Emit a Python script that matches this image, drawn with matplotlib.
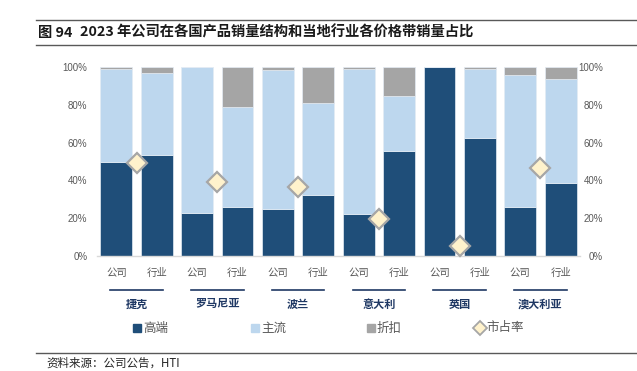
import matplotlib
matplotlib.use("Agg")
import matplotlib.pyplot as plt
import numpy as np
from matplotlib.lines import Line2D
from matplotlib.transforms import blended_transform_factory

plt.rcParams['font.family'] = ['Noto Sans CJK SC', 'DejaVu Sans']

# ---------------- data ----------------
countries = ['捷克', '罗马尼亚', '波兰', '意大利', '英国', '澳大利亚']
bar_labels = ['公司', '行业']
company_high = [50, 23, 24.7, 22.2, 100, 25.8]
company_main = [48.8, 77, 73.7, 76.9, 0, 70]
company_disc = [1.2, 0, 1.6, 0.9, 0, 4.2]
industry_high = [53.6, 25.8, 32.4, 55.6, 62.6, 38.5]
industry_main = [43, 52.9, 48.4, 29.1, 36.2, 55.2]
industry_disc = [3.4, 21.3, 19.2, 15.3, 1.2, 6.3]
market_share = [49, 39.3, 36.3, 19.4, 5.3, 46.3]
yticks = [0, 20, 40, 60, 80, 100]
legend_labels = ['高端', '主流', '折扣', '市占率']

title_num = '图 94'
title_body = '2023 年公司在各国产品销量结构和当地行业各价格带销量占比'
source = '资料来源：公司公告，HTI'

# ---------------- styles ----------------
c_high = '#1F4E79'
c_main = '#BDD7EE'
c_disc = '#A5A5A5'
c_text = '#595959'
c_country = '#1F3864'

W, H = 637, 371
fig = plt.figure(figsize=(W / 100, H / 100), dpi=100)

ax_l, ax_r = 97 / W, 580 / W
ax_b, ax_t = 1 - 256 / H, 1 - 67 / H
ax = fig.add_axes([ax_l, ax_b, ax_r - ax_l, ax_t - ax_b])

n = len(countries)
high = []
main = []
disc = []
for i in range(n):
    high += [company_high[i], industry_high[i]]
    main += [company_main[i], industry_main[i]]
    disc += [company_disc[i], industry_disc[i]]
high = np.array(high)
main = np.array(main)
disc = np.array(disc)
x = np.arange(2 * n)

bw = 0.79
ec = '#E4ECF4'
ax.bar(x, high, width=bw, color=c_high, edgecolor=ec, linewidth=0.5)
ax.bar(x, main, bottom=high, width=bw, color=c_main, edgecolor=ec, linewidth=0.5)
ax.bar(x, disc, bottom=high + main, width=bw, color=c_disc, edgecolor=ec, linewidth=0.5)

share_x = np.arange(n) * 2 + 0.5
ax.plot(share_x, market_share, linestyle='none', marker='D', markersize=10,
        markerfacecolor='#FFF2CC', markeredgecolor='#A6A6A6', markeredgewidth=1.6,
        zorder=5, clip_on=False)

ax.set_xlim(-0.48, 2 * n - 0.52)
ax.set_ylim(0, 100)
for s in ['top', 'left', 'right']:
    ax.spines[s].set_visible(False)
ax.spines['bottom'].set_color('#D9D9D9')
ax.spines['bottom'].set_linewidth(1.0)

ax.set_yticks(yticks)
ax.set_yticklabels([f'{v}%' for v in yticks])
ax.tick_params(axis='y', length=0, pad=7, labelsize=7, labelcolor=c_text)
for lb in ax.get_yticklabels():
    lb.set_fontfamily(['Liberation Sans'])
ax.set_xticks([])

ax2 = ax.twinx()
ax2.set_ylim(0, 100)
ax2.set_yticks(yticks)
ax2.set_yticklabels([f'{v}%' for v in yticks])
ax2.tick_params(axis='y', length=0, pad=16.5, labelsize=7, labelcolor=c_text)
for lb in ax2.get_yticklabels():
    lb.set_fontfamily(['Liberation Sans'])
    lb.set_horizontalalignment('right')
for s in ax2.spines.values():
    s.set_visible(False)

# category labels, underlines, country names
tr = blended_transform_factory(ax.transData, fig.transFigure)
for i in range(2 * n):
    ax.text(x[i], 1 - 273 / H, bar_labels[i % 2], transform=tr, ha='center', va='center',
            fontsize=7.5, color=c_text, clip_on=False)
for i, c in enumerate(countries):
    cx = 2 * i + 0.5
    ax.add_line(Line2D([cx - 0.65, cx + 0.65], [1 - 289.5 / H] * 2, transform=tr,
                       color=c_country, linewidth=1.2, clip_on=False))
    ax.text(cx, 1 - 304 / H, c, transform=tr, ha='center', va='center',
            fontsize=8, fontweight='bold', color=c_country, clip_on=False)

# legend
ly = 1 - 328 / H
leg_items = [(137, c_high, 's'), (255, c_main, 's'), (371, c_disc, 's'), (480, '#FFF2CC', 'D')]
for (px, col, mk), lab in zip(leg_items, legend_labels):
    if mk == 's':
        fig.add_artist(Line2D([px / W], [ly], marker='s', markersize=5.5, color=col,
                              linestyle='none', transform=fig.transFigure))
    else:
        fig.add_artist(Line2D([px / W], [ly], marker='D', markersize=7, markerfacecolor=col,
                              markeredgecolor='#A6A6A6', markeredgewidth=1.3,
                              linestyle='none', transform=fig.transFigure))
    fig.text((px + 6) / W, ly, lab, ha='left', va='center', fontsize=9, color=c_text)

# title & frame lines
fig.add_artist(Line2D([36 / W, 1], [1 - 20 / H] * 2, color='#595959', linewidth=1.0,
                      transform=fig.transFigure))
fig.add_artist(Line2D([36 / W, 1], [1 - 44.5 / H] * 2, color='#595959', linewidth=1.0,
                      transform=fig.transFigure))
fig.text(38 / W, 1 - 32.5 / H, title_num, ha='left', va='center', fontsize=10.3,
         fontweight='bold', color='#1A1A1A')
fig.text(80 / W, 1 - 32.5 / H, title_body, ha='left', va='center', fontsize=10.3,
         fontweight='bold', color='#1A1A1A')

fig.add_artist(Line2D([36 / W, 1], [1 - 353 / H] * 2, color='#595959', linewidth=1.0,
                      transform=fig.transFigure))
fig.text(46 / W, 1 - 363 / H, source, ha='left', va='center', fontsize=8.3, color='#262626')

fig.savefig('out.png', dpi=100)
